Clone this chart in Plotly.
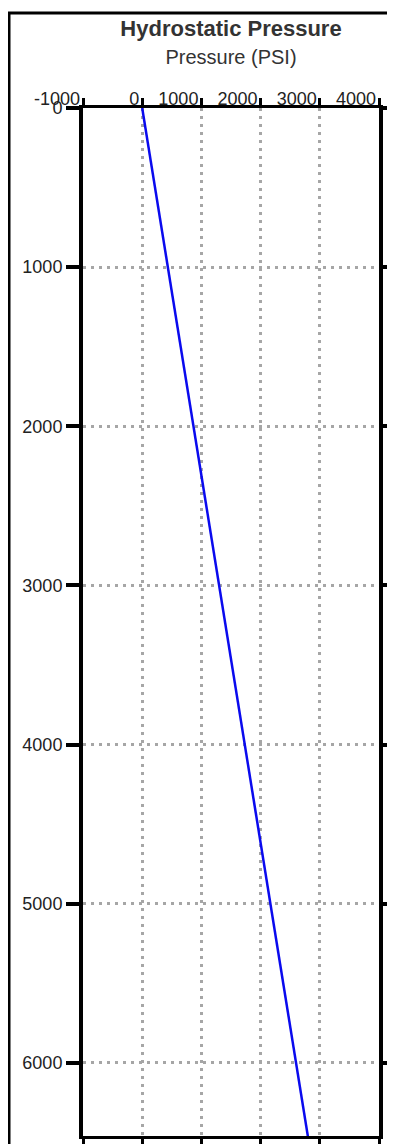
import plotly.graph_objects as go

# Data: hydrostatic pressure (PSI) vs depth (ft)
depth_ft = [0, 1000, 2000, 3000, 4000, 5000, 6000, 6500]
pressure_psi = [0, 433, 866, 1299, 1732, 2165, 2598, 2815]

x_ticks = [-1000, 0, 1000, 2000, 3000, 4000]
y_ticks = [0, 1000, 2000, 3000, 4000, 5000, 6000]

# the page body has an 8px margin, so the figure is sized to fill the window
W, H = 387, 1136
ML, MR, MT, MB = 75, 16, 100, 8
pw = W - ML - MR
ph = H - MT - MB

fig = go.Figure()
fig.add_trace(go.Scatter(
    x=pressure_psi, y=depth_ft, mode="lines",
    line=dict(color="#0a0aee", width=2.5),
    showlegend=False, hoverinfo="skip",
))

font_family = "Liberation Sans, Arial, sans-serif"
grid_color = "#a6a6a6"

fig.update_layout(
    width=W, height=H,
    margin=dict(l=ML, r=MR, t=MT, b=MB),
    paper_bgcolor="white", plot_bgcolor="white",
    font=dict(family=font_family, color="#222"),
    title=dict(text="<b>Hydrostatic Pressure</b>", x=0.5, xref="paper",
               xanchor="center", y=1 - 20 / H, yref="container", yanchor="middle",
               font=dict(size=22, color="#333", family=font_family)),
    xaxis=dict(
        side="top", range=[-1000, 4000], tickvals=x_ticks,
        ticktext=[str(v) for v in x_ticks],
        ticks="outside", ticklen=7, tickwidth=3, tickcolor="black",
        ticklabelposition="outside left", ticklabelstandoff=-7,
        showline=True, linewidth=3, linecolor="black", mirror="ticks",
        showgrid=True, gridcolor=grid_color, griddash="3px,5px", gridwidth=3,
        zeroline=False, automargin=False,
        tickfont=dict(size=18, color="#222"),
        title=dict(text="Pressure (PSI)", standoff=19,
                   font=dict(size=20, color="#333")),
    ),
    yaxis=dict(
        range=[6460, 0], tickvals=y_ticks,
        ticks="outside", ticklen=13, tickwidth=4, tickcolor="black",
        showline=True, linewidth=4, linecolor="black", mirror="ticks",
        showgrid=True, gridcolor=grid_color, griddash="3px,5px", gridwidth=3,
        zeroline=False, automargin=False,
        tickfont=dict(size=18, color="#222"),
    ),
)

# outer frame (partially outside the viewport, as in the reference)
fig.add_shape(type="rect", xref="paper", yref="paper",
              x0=(1 - ML) / pw, x1=(W + 20 - ML) / pw,
              y0=-(MB + 20) / ph, y1=1 + (MT - 5) / ph,
              line=dict(color="black", width=3), layer="below")

fig.write_html("out.html")
